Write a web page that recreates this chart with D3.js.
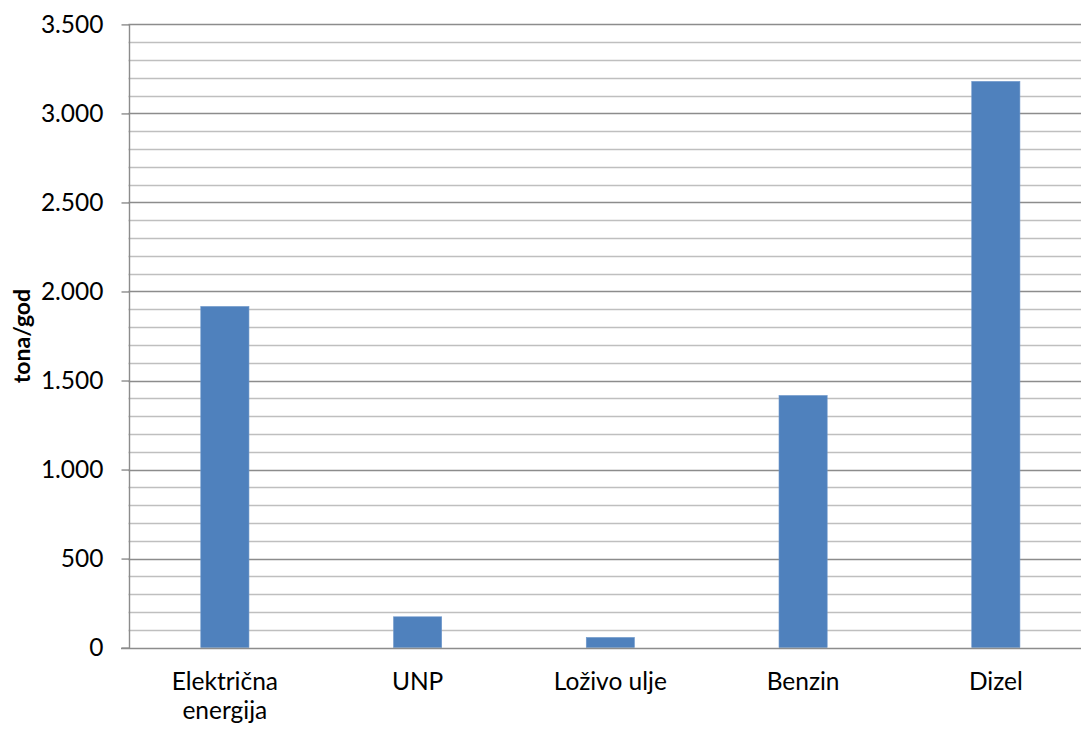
<!DOCTYPE html>
<html>
<head>
<meta charset="utf-8">
<script src="https://cdn.jsdelivr.net/npm/d3@7"></script>
<style>
  html, body { margin: 0; padding: 0; background: #fff; }
  svg { display: block; }
  text { font-family: Lato, "Open Sans", sans-serif; fill: #000; }
</style>
</head>
<body>
<svg id="chart" width="1081" height="729"></svg>
<script>
// Emissions by energy source (tona/god)
const categories = ["Električna energija", "UNP", "Loživo ulje", "Benzin", "Dizel"];
const categoryLines = [["Električna", "energija"], ["UNP"], ["Loživo ulje"], ["Benzin"], ["Dizel"]];
const values = [1916, 173, 57, 1416, 3180];
const majorTicks = [0, 500, 1000, 1500, 2000, 2500, 3000, 3500];
const tickLabels = ["0", "500", "1.000", "1.500", "2.000", "2.500", "3.000", "3.500"];
const axisTitle = "tona/god";

const W = 1081, H = 729;
const plot = { left: 128.5, right: 1092.2, top: 24.4, bottom: 647.6 };
const labelSize = 24.5;

const svg = d3.select("#chart");

const x = d3.scaleBand()
  .domain(categories)
  .range([plot.left, plot.right])
  .paddingInner(0.75)
  .paddingOuter(0.375);

const y = d3.scaleLinear()
  .domain([0, 3500])
  .range([plot.bottom, plot.top]);

const crisp = v => Math.round(v) + 0.5;

// minor gridlines every 100
const minor = d3.range(100, 3500, 100).filter(v => v % 500 !== 0);
svg.append("g").selectAll("line").data(minor).join("line")
  .attr("x1", plot.left).attr("x2", W)
  .attr("y1", d => crisp(y(d))).attr("y2", d => crisp(y(d)))
  .attr("stroke", "#bfbfbf").attr("stroke-width", 1.4);

// major gridlines
svg.append("g").selectAll("line").data(majorTicks.filter(v => v > 0)).join("line")
  .attr("x1", plot.left).attr("x2", W)
  .attr("y1", d => crisp(y(d))).attr("y2", d => crisp(y(d)))
  .attr("stroke", "#8c8c8c").attr("stroke-width", 1.4);

// bars
svg.append("g").selectAll("rect").data(values).join("rect")
  .attr("x", (d, i) => x(categories[i]))
  .attr("width", x.bandwidth())
  .attr("y", d => y(d))
  .attr("height", d => y(0) - y(d))
  .attr("fill", "#4f81bd")
  .attr("stroke", "#6f98cb")
  .attr("stroke-width", 0.6);

// y axis
const yAxis = d3.axisLeft(y)
  .tickValues(majorTicks)
  .tickFormat((d, i) => tickLabels[i])
  .tickSize(7.5)
  .tickPadding(18);
const gy = svg.append("g")
  .attr("transform", `translate(${crisp(plot.left) - 0.5},0)`)
  .call(yAxis);
gy.select(".domain").remove();
gy.selectAll(".tick line").attr("stroke", "#8c8c8c").attr("stroke-width", 1.4);
gy.selectAll(".tick text")
  .attr("font-family", "Lato, 'Open Sans', sans-serif")
  .attr("font-size", labelSize).attr("fill", "#000");

// vertical axis line
svg.append("line")
  .attr("x1", crisp(plot.left)).attr("x2", crisp(plot.left))
  .attr("y1", crisp(y(3500))).attr("y2", crisp(y(0)))
  .attr("stroke", "#8c8c8c").attr("stroke-width", 1.4);

// horizontal axis line
svg.append("line")
  .attr("x1", plot.left - 7.5).attr("x2", W)
  .attr("y1", crisp(y(0))).attr("y2", crisp(y(0)))
  .attr("stroke", "#8c8c8c").attr("stroke-width", 1.6);

// category labels
const xl = svg.append("g");
categories.forEach((c, i) => {
  const t = xl.append("text")
    .attr("x", x(c) + x.bandwidth() / 2)
    .attr("y", 690)
    .attr("text-anchor", "middle")
    .attr("font-size", labelSize);
  categoryLines[i].forEach((line, j) => {
    t.append("tspan")
      .attr("x", x(c) + x.bandwidth() / 2)
      .attr("dy", j === 0 ? 0 : 29)
      .text(line);
  });
});

// axis title
svg.append("text")
  .attr("transform", `translate(30,${(plot.top + plot.bottom) / 2}) rotate(-90)`)
  .attr("text-anchor", "middle")
  .attr("font-size", 23)
  .attr("font-weight", "bold")
  .text(axisTitle);
</script>
</body>
</html>
